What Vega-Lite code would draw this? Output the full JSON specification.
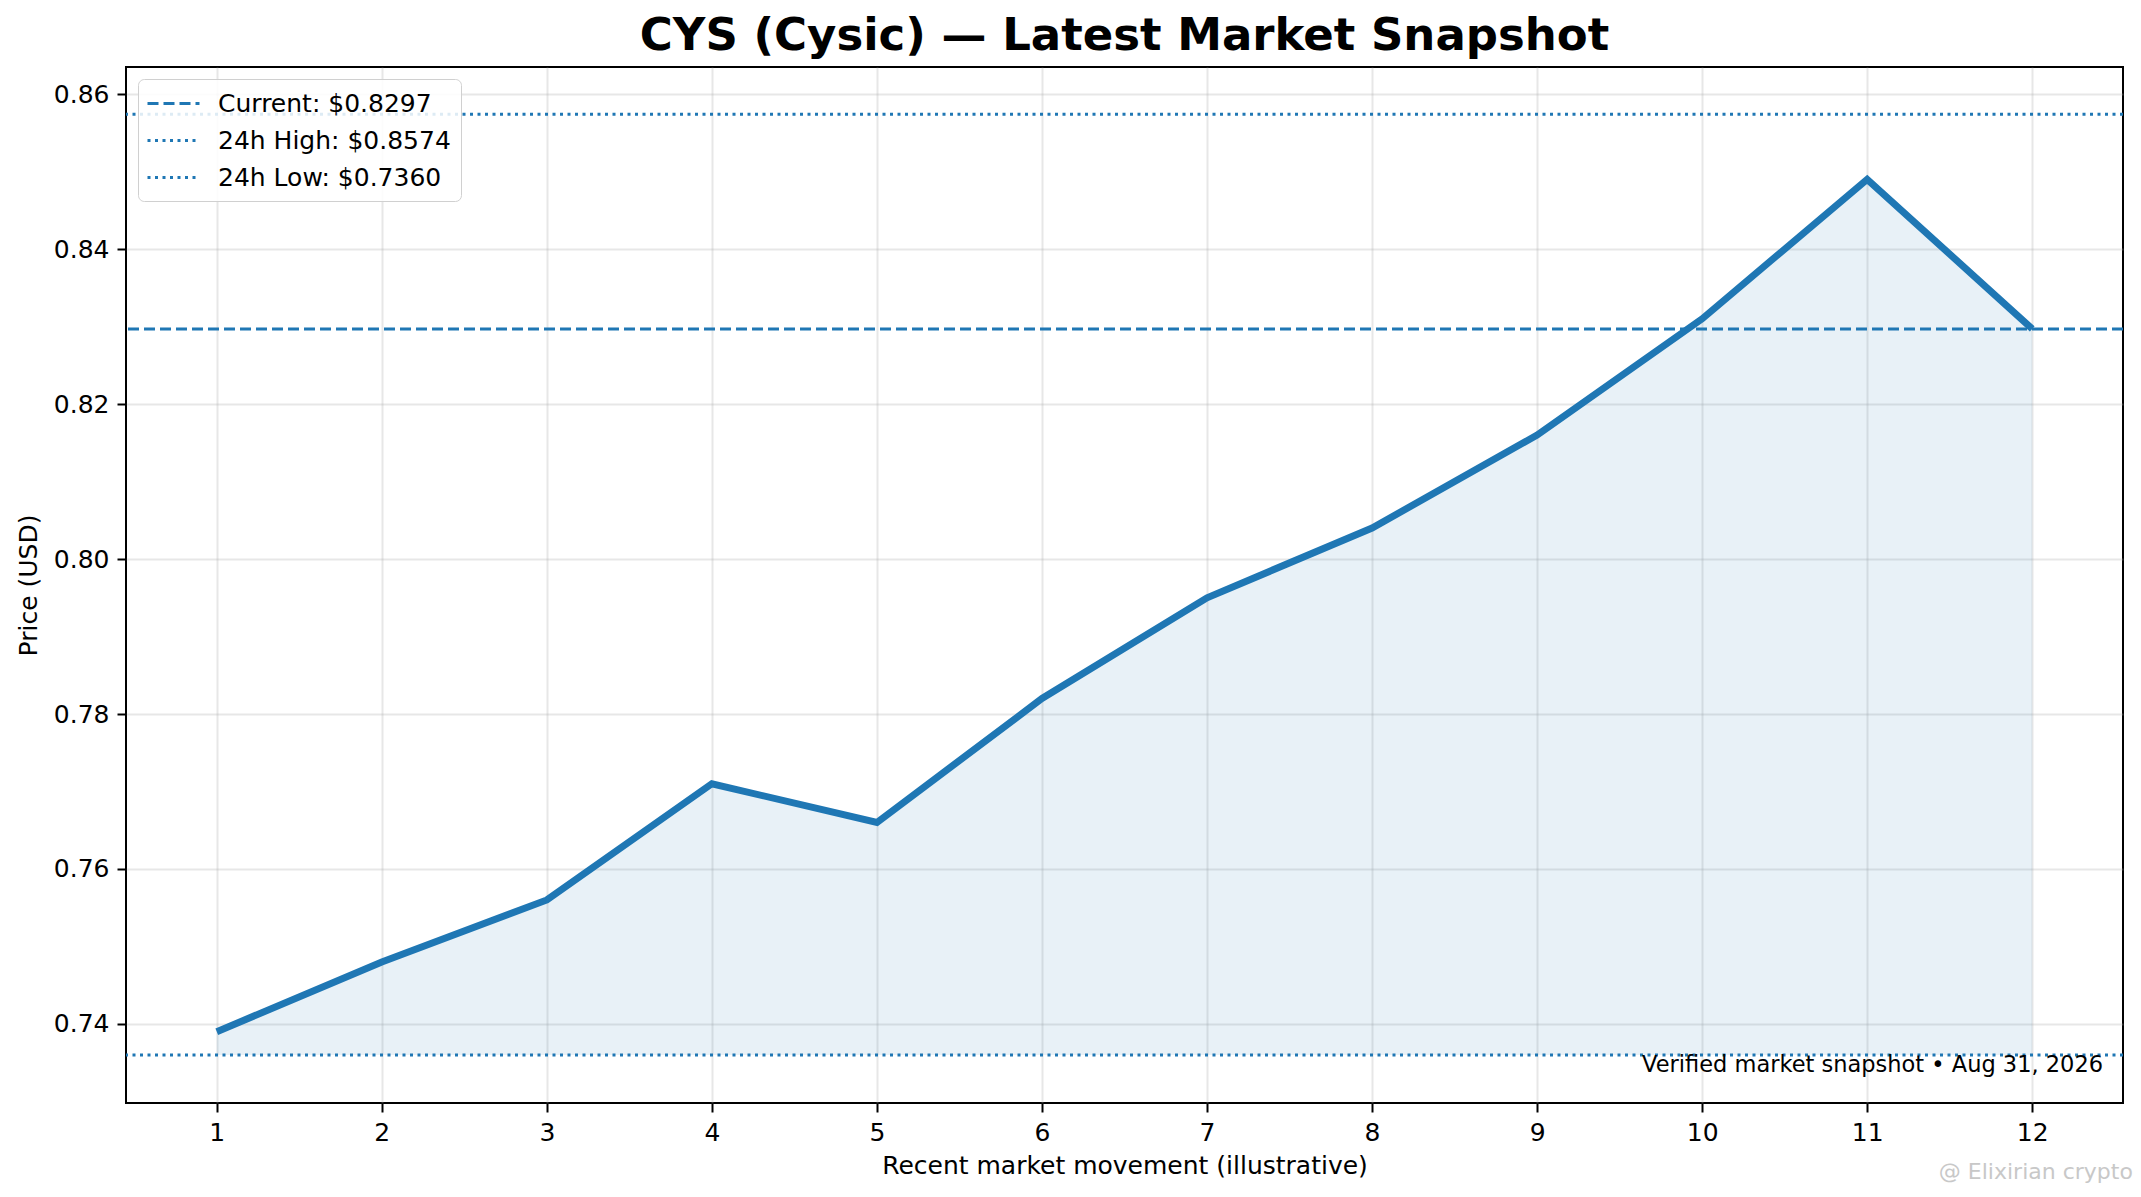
{
  "$schema": "https://vega.github.io/schema/vega-lite/v6.json",
  "autosize": "none",
  "width": 1997,
  "height": 1036,
  "padding": {"left": 126, "top": 67, "right": 18, "bottom": 94},
  "background": "white",
  "config": {
    "font": "DejaVu Sans",
    "view": {"stroke": "black", "strokeWidth": 2},
    "axis": {
      "domain": false,
      "grid": true,
      "gridColor": "#b0b0b0",
      "gridOpacity": 0.3,
      "gridWidth": 2,
      "tickColor": "black",
      "tickSize": 9,
      "tickWidth": 2,
      "labelPadding": 8,
      "labelFont": "DejaVu Sans",
      "labelFontSize": 25,
      "labelColor": "black",
      "titleFont": "DejaVu Sans",
      "titleFontSize": 25,
      "titleFontWeight": "normal",
      "titleColor": "black"
    }
  },
  "title": {
    "text": "CYS (Cysic) — Latest Market Snapshot",
    "font": "DejaVu Sans",
    "fontSize": 45,
    "fontWeight": "bold",
    "color": "black",
    "anchor": "middle",
    "offset": 8
  },
  "data": {
    "values": [
      {"step": 1, "price": 0.739},
      {"step": 2, "price": 0.748},
      {"step": 3, "price": 0.756},
      {"step": 4, "price": 0.771},
      {"step": 5, "price": 0.766},
      {"step": 6, "price": 0.782},
      {"step": 7, "price": 0.795},
      {"step": 8, "price": 0.804},
      {"step": 9, "price": 0.816},
      {"step": 10, "price": 0.831},
      {"step": 11, "price": 0.849},
      {"step": 12, "price": 0.8297}
    ]
  },
  "encoding": {
    "x": {
      "field": "step",
      "type": "quantitative",
      "scale": {"domain": [0.45, 12.55], "nice": false, "zero": false},
      "axis": {
        "title": "Recent market movement (illustrative)",
        "values": [1, 2, 3, 4, 5, 6, 7, 8, 9, 10, 11, 12],
        "format": "d",
        "titlePadding": 8
      }
    },
    "y": {
      "field": "price",
      "type": "quantitative",
      "scale": {"domain": [0.7298, 0.8635], "nice": false, "zero": false},
      "axis": {
        "title": "Price (USD)",
        "values": [0.74, 0.76, 0.78, 0.8, 0.82, 0.84, 0.86],
        "format": ".2f",
        "titlePadding": 12
      }
    }
  },
  "layer": [
    {
      "mark": {"type": "area", "color": "#1f77b4", "opacity": 0.1},
      "encoding": {"y2": {"datum": 0.736}}
    },
    {
      "mark": {"type": "line", "color": "#1f77b4", "strokeWidth": 7, "strokeJoin": "miter"}
    },
    {
      "data": {
        "values": [
          {"label": "Current: $0.8297", "level": 0.8297},
          {"label": "24h High: $0.8574", "level": 0.8574},
          {"label": "24h Low: $0.7360", "level": 0.736}
        ]
      },
      "mark": {"type": "rule", "color": "#1f77b4", "strokeWidth": 3},
      "encoding": {
        "x": null,
        "y": {"field": "level", "type": "quantitative"},
        "strokeDash": {
          "field": "label",
          "type": "nominal",
          "scale": {
            "domain": ["Current: $0.8297", "24h High: $0.8574", "24h Low: $0.7360"],
            "range": [[11, 5], [3, 4.5], [3, 4.5]]
          },
          "legend": {
            "title": null,
            "orient": "top-left",
            "offset": 12,
            "padding": 10,
            "fillColor": "rgba(255,255,255,0.85)",
            "strokeColor": "#d0d0d0",
            "cornerRadius": 6,
            "symbolType": "M-2,0L2,0",
            "symbolSize": 676,
            "symbolOffset": 11,
            "symbolStrokeWidth": 3,
            "symbolStrokeColor": "#1f77b4",
            "labelFont": "DejaVu Sans",
            "labelFontSize": 25,
            "labelColor": "black",
            "labelLimit": 400,
            "labelOffset": 30,
            "rowPadding": 9
          }
        }
      }
    },
    {
      "data": {"values": [{"note": "Verified market snapshot • Aug 31, 2026", "nx": 12.429, "ny": 0.7332}]},
      "mark": {"type": "text", "align": "right", "baseline": "bottom", "fontSize": 22.5, "color": "black", "font": "DejaVu Sans"},
      "encoding": {
        "x": {"field": "nx", "type": "quantitative"},
        "y": {"field": "ny", "type": "quantitative"},
        "text": {"field": "note"}
      }
    },
    {
      "data": {"values": [{"note": "@ Elixirian crypto", "nx": 12.61, "ny": 0.7209}]},
      "mark": {"type": "text", "align": "right", "baseline": "middle", "fontSize": 22, "color": "#c8c8c8", "font": "DejaVu Sans", "clip": false},
      "encoding": {
        "x": {"field": "nx", "type": "quantitative"},
        "y": {"field": "ny", "type": "quantitative"},
        "text": {"field": "note"}
      }
    }
  ]
}
